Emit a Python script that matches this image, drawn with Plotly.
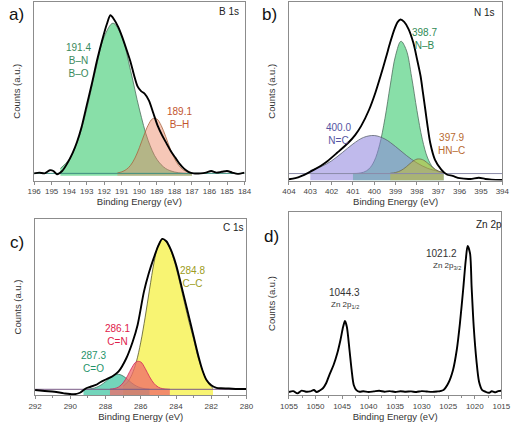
import plotly.graph_objects as go

W, H = 520, 426

# ---------------- Panel a : B 1s ----------------
a_env_x = [196.0, 195.7, 195.4, 195.1, 194.9, 194.7, 194.4, 194.1, 193.8, 193.55, 193.3, 193.0, 192.7, 192.4,
           192.1, 191.85, 191.65, 191.45, 191.2, 191.0, 190.75, 190.5, 190.3, 190.1, 189.9, 189.7, 189.45,
           189.2, 188.95, 188.7, 188.45, 188.2, 187.95, 187.7, 187.45, 187.2, 186.9, 186.5, 186.2, 185.9,
           185.6, 185.3, 185.0, 184.7, 184.4, 184.0]
a_env_y = [1.5, 2.0, 1.5, 3.5, 3.0, 1.0, 3.0, 8.0, 14.5, 21.5, 30.5, 44.5, 58.5, 73.5,
           86.5, 96.0, 101.5, 99.0, 94.0, 88.5, 80.5, 72.0, 63.5, 56.5, 53.5, 52.0, 47.5,
           39.5, 31.5, 25.5, 20.5, 15.5, 11.5, 7.5, 4.5, 2.5, 1.5, 1.5, 2.0, 3.0,
           2.0, 2.5, 3.0, 2.0, 1.2, 2.0]
a_bn_x = [194.5, 194.0, 193.5, 193.0, 192.5, 192.0, 191.5, 191.0, 190.5, 190.0, 189.5, 189.0, 188.5, 188.0, 187.5, 187.0]
a_bn_y = [4.6, 10.4, 22.4, 42.2, 66.6, 88.0, 96.5, 88.0, 66.6, 42.2, 22.4, 10.4, 4.6, 2.4, 1.6, 1.5]
a_bh_x = [191.25, 191.0, 190.75, 190.5, 190.25, 190.0, 189.75, 189.5, 189.25, 189.0, 188.75, 188.5,
          188.25, 188.0, 187.75, 187.5, 187.25, 187.0]
a_bh_y = [1.8, 2.5, 3.9, 6.6, 11.2, 17.7, 25.2, 31.9, 36.0, 35.9, 31.7, 24.9, 17.4, 11.0, 6.5, 3.8, 2.4, 1.8]
a_bg_x = [196.0, 184.0]
a_bg_y = [1.5, 1.5]
a_ticks = [196, 195, 194, 193, 192, 191, 190, 189, 188, 187, 186, 185, 184]

# ---------------- Panel b : N 1s ----------------
b_env_x = [404.0, 403.7, 403.4, 403.1, 402.8, 402.5, 402.2, 401.74, 401.22, 400.9, 400.62, 400.24, 399.95,
           399.71, 399.45, 399.26, 399.05, 398.9, 398.77, 398.6, 398.4, 398.17, 398.0, 397.83, 397.72,
           397.61, 397.5, 397.38, 397.16, 396.86, 396.6, 396.33, 396.0, 395.5, 395.1, 394.8, 394.5, 394.0]
b_env_y = [0.8, 1.5, 3.0, 5.0, 7.2, 9.6, 12.5, 18.0, 24.5, 29.5, 35.3, 46.1, 57.0,
           67.7, 80.0, 89.4, 98.5, 103.0, 104.5, 103.0, 98.5, 89.4, 79.0, 67.7, 57.0,
           46.1, 35.0, 24.5, 13.6, 7.1, 3.9, 3.0, 1.5, 1.0, 1.8, 1.0, 0.6, 0.3]
b_nb_x = [401.0, 400.75, 400.5, 400.25, 400.0, 399.75, 399.5, 399.25, 399.0, 398.75, 398.5, 398.25,
          398.0, 397.75, 397.5, 397.25, 397.0, 396.75]
b_nb_y = [4.55, 4.7, 5.4, 7.5, 12.7, 23.2, 40.4, 62.0, 81.3, 90.4, 84.7, 67.1,
          45.4, 26.8, 14.6, 8.4, 5.7, 4.8]
b_nc_x = [403.0, 402.5, 402.0, 401.5, 401.0, 400.5, 400.0, 399.5, 399.0, 398.5, 398.0, 397.5, 397.0, 396.75]
b_nc_y = [6.5, 8.9, 12.8, 18.1, 23.7, 28.0, 29.2, 26.9, 22.0, 16.3, 11.4, 7.9, 6.0, 5.4]
b_hn_x = [399.25, 399.0, 398.75, 398.5, 398.25, 398.0, 397.75, 397.5, 397.25, 397.0, 396.75]
b_hn_y = [4.7, 5.2, 6.5, 8.9, 11.9, 13.9, 13.6, 11.3, 8.3, 6.2, 5.0]
b_bg_x = [404.0, 394.0]
b_bg_y = [4.5, 4.5]
b_ticks = [404, 403, 402, 401, 400, 399, 398, 397, 396, 395, 394]

# ---------------- Panel c : C 1s ----------------
c_env_x = [292.0, 291.45, 290.9, 290.36, 289.8, 289.45, 289.1, 288.85, 288.55, 288.3, 287.95, 287.6,
           287.27, 286.82, 286.46, 286.18, 285.82, 285.55, 285.27, 285.0, 284.78, 284.55, 284.3, 284.0,
           283.64, 283.18, 282.73, 282.5, 282.27, 282.0, 281.7, 281.45, 281.0, 280.5, 280.0]
c_env_y = [3.3, 2.7, 2.2, 1.1, 0.5, 1.5, 4.5, 5.5, 6.7, 8.5, 10.5, 12.5,
           15.5, 24.5, 35.5, 46.7, 68.9, 81.0, 91.1, 99.5, 104.0, 102.5, 97.0, 87.0,
           70.0, 48.0, 26.0, 16.5, 10.0, 6.5, 4.8, 4.5, 4.3, 4.0, 4.0]
c_cc_x = [287.0, 286.75, 286.5, 286.25, 286.0, 285.75, 285.5, 285.25, 285.0, 284.78, 284.5, 284.25,
          284.0, 283.75, 283.5, 283.25, 283.0, 282.75, 282.5, 282.25, 282.0, 281.9]
c_cc_y = [5.9, 8.6, 13.7, 22.2, 35.2, 51.9, 70.6, 88.1, 100.3, 104.0, 101.3, 94.7,
          85.0, 73.1, 60.5, 48.2, 37.2, 25.0, 16.5, 9.5, 5.5, 4.5]
c_cn_x = [287.75, 287.5, 287.25, 287.0, 286.75, 286.5, 286.25, 286.0, 285.75, 285.5, 285.25, 285.0,
          284.75, 284.5, 284.35]
c_cn_y = [3.9, 4.3, 5.4, 8.1, 12.8, 18.4, 22.2, 22.0, 17.7, 12.1, 7.7, 5.2, 4.2, 3.9, 3.8]
c_co_x = [289.25, 289.0, 288.75, 288.5, 288.25, 288.0, 287.75, 287.5, 287.25, 287.0, 286.75, 286.5,
          286.25, 286.0, 285.75, 285.5]
c_co_y = [3.85, 4.0, 4.3, 5.2, 6.7, 8.9, 11.4, 13.3, 13.8, 12.6, 10.4, 7.9, 6.0, 4.8, 4.2, 3.9]
c_bg_x = [292.0, 280.0]
c_bg_y = [3.8, 3.8]
c_ticks = [292, 290, 288, 286, 284, 282, 280]

# ---------------- Panel d : Zn 2p ----------------
d_env_x = [1055.0, 1054.2, 1053.4, 1052.6, 1051.8, 1051.0, 1050.3, 1049.8, 1049.2, 1048.6, 1048.0,
           1047.4, 1046.6, 1045.9, 1045.3, 1044.8, 1044.45, 1044.1, 1043.6, 1043.2, 1042.8, 1042.3,
           1041.7, 1041.0, 1040.0, 1039.0, 1038.0, 1037.0, 1036.0, 1035.0, 1034.0, 1033.0, 1032.0,
           1031.0, 1030.0, 1029.0, 1028.0, 1027.0, 1026.5, 1025.9, 1025.0, 1024.1, 1023.4, 1022.8,
           1022.2, 1021.7, 1021.35, 1020.9, 1020.6, 1020.2, 1019.7, 1019.2, 1018.6, 1018.0, 1017.3,
           1016.8, 1016.1, 1015.6, 1015.0]
d_env_y = [2.0, 2.6, 1.1, 2.9, 2.2, 2.4, 3.3, 2.0, 3.0, 4.5, 7.8,
           13.3, 20.0, 27.8, 36.7, 45.5, 49.3, 45.5, 30.0, 16.7, 6.7, 3.3,
           2.2, 2.5, 2.0, 2.4, 2.8, 2.2, 2.6, 2.0, 2.5, 2.2, 2.4,
           2.0, 2.6, 2.3, 2.1, 2.4, 2.6, 3.3, 7.8, 16.7, 30.0, 47.8,
           70.0, 90.0, 99.3, 94.5, 72.2, 45.5, 23.3, 8.9, 3.3, 2.2, 1.5,
           2.5, 1.8, 2.6, 2.8]
d_ticks = [1055, 1050, 1045, 1040, 1035, 1030, 1025, 1020, 1015]

FONT = "Liberation Sans, Arial, sans-serif"
NARROW = "Liberation Sans Narrow, Arial Narrow, Liberation Sans, Arial, sans-serif"
X_TITLE = "Binding Energy (eV)"
Y_TITLE = "Counts (a.u.)"

fig = go.Figure()


def comp(x, y, xa, ya, fill, line, name):
    fig.add_trace(go.Scatter(x=x, y=y, xaxis=xa, yaxis=ya, mode="lines", fill="tozeroy",
                             fillcolor=fill, line=dict(color=line, width=0.8, shape="spline"),
                             name=name, showlegend=False, hoverinfo="skip"))


def env(x, y, xa, ya, name):
    fig.add_trace(go.Scatter(x=x, y=y, xaxis=xa, yaxis=ya, mode="lines",
                             line=dict(color="#000000", width=1.9, shape="spline", smoothing=0.8),
                             name=name, showlegend=False))


def bg(x, y, xa, ya, color):
    fig.add_trace(go.Scatter(x=x, y=y, xaxis=xa, yaxis=ya, mode="lines",
                             line=dict(color=color, width=1.0), showlegend=False, hoverinfo="skip"))


# a
comp(a_bn_x, a_bn_y, "x", "y", "rgba(90,210,135,0.72)", "#4f6e5e", "B–N / B–O")
comp(a_bh_x, a_bh_y, "x", "y", "rgba(235,130,95,0.45)", "#a8643e", "B–H")
bg(a_bg_x, a_bg_y, "x", "y", "#3f8f80")
env(a_env_x, a_env_y, "x", "y", "B 1s")
# b
comp(b_nb_x, b_nb_y, "x2", "y2", "rgba(90,210,135,0.72)", "#4f6e5e", "N–B")
comp(b_nc_x, b_nc_y, "x2", "y2", "rgba(140,130,220,0.55)", "#5b6370", "N=C")
comp(b_hn_x, b_hn_y, "x2", "y2", "rgba(200,185,40,0.5)", "#6e6a50", "HN–C")
bg(b_bg_x, b_bg_y, "x2", "y2", "#8a8aa8")
env(b_env_x, b_env_y, "x2", "y2", "N 1s")
# c
comp(c_cc_x, c_cc_y, "x3", "y3", "rgba(245,240,60,0.72)", "#55552a", "C–C")
comp(c_co_x, c_co_y, "x3", "y3", "rgba(40,190,150,0.65)", "#3d6e60", "C=O")
comp(c_cn_x, c_cn_y, "x3", "y3", "rgba(240,105,105,0.75)", "#d0245a", "C=N")
bg(c_bg_x, c_bg_y, "x3", "y3", "#7a5a86")
env(c_env_x, c_env_y, "x3", "y3", "C 1s")
# d
env(d_env_x, d_env_y, "x4", "y4", "Zn 2p")

ax_common = dict(showline=True, linecolor="#8c8c8c", linewidth=1, mirror=True, showgrid=False,
                 zeroline=False, ticks="outside", ticklen=3, tickcolor="#8c8c8c", tickwidth=1,
                 tickfont=dict(size=8, color="#444444", family=FONT),
                 title=dict(text=X_TITLE, standoff=2, font=dict(size=9.5, color="#333333", family=FONT)))
y_common = dict(showline=True, linecolor="#8c8c8c", linewidth=1, mirror=True, showgrid=False,
                zeroline=False, ticks="", showticklabels=False,
                title=dict(text=Y_TITLE, standoff=10, font=dict(size=9.5, color="#333333", family=FONT)))


def px_x(p):
    return p / W


def px_y(p):
    return 1 - p / H


fig.update_layout(
    width=W, height=H, margin=dict(l=0, r=0, t=0, b=0),
    paper_bgcolor="white", plot_bgcolor="white", showlegend=False,
    font=dict(family=FONT, color="#333333"),
    xaxis=dict(ax_common, domain=[px_x(26), px_x(244)], range=[196, 184], tickvals=a_ticks, anchor="y"),
    yaxis=dict(y_common, domain=[px_y(180.5), px_y(2)], range=[-3.0, 109.9], anchor="x"),
    xaxis2=dict(ax_common, domain=[px_x(290), px_x(511)], range=[404, 394], tickvals=b_ticks, anchor="y2"),
    yaxis2=dict(y_common, domain=[px_y(180.5), px_y(2)], range=[0, 115.9], anchor="x2"),
    xaxis3=dict(ax_common, domain=[px_x(27), px_x(246)], range=[292, 280], tickvals=c_ticks, anchor="y3",
                minor=dict(ticks="outside", ticklen=2, tickcolor="#8c8c8c", dtick=1)),
    yaxis3=dict(y_common, domain=[px_y(395), px_y(219)], range=[0, 117.3], anchor="x3"),
    xaxis4=dict(ax_common, domain=[px_x(290), px_x(510)], range=[1055, 1015], tickvals=d_ticks, anchor="y4",
                minor=dict(ticks="outside", ticklen=2, tickcolor="#8c8c8c", dtick=2.5)),
    yaxis4=dict(y_common, domain=[px_y(395), px_y(212)], range=[0, 122], anchor="x4"),
)

ann = []


def note(text, x, y, size=9, color="#333333", angle=0, family=FONT):
    ann.append(dict(text=text, x=px_x(x), y=px_y(y), xref="paper", yref="paper", showarrow=False,
                    xanchor="center", yanchor="middle", textangle=angle,
                    font=dict(size=size, color=color, family=family)))


# panel letters and titles
for t, x, y in [("a)", 8, 15), ("b)", 270, 15), ("c)", 8, 242), ("d)", 272, 236)]:
    note(t, x, y, size=17, color="#111111")
for t, x, y in [("B 1s", 228, 12), ("N 1s", 493, 13), ("C 1s", 233, 228), ("Zn 2p", 497, 225)]:
    note(t, x, y, size=10, color="#222222")
# peak labels
note("191.4<br>B–N<br>B–O", 72, 60, size=10, color="#3a8a5c", family=NARROW)
note("189.1<br>B–H", 177, 117.5, size=10, color="#c2552e", family=NARROW)
note("398.7<br>N–B", 430, 39, size=10, color="#2f8a55", family=NARROW)
note("400.0<br>N=C", 341, 134, size=10, color="#5454a2", family=NARROW)
note("397.9<br>HN–C", 458, 144, size=10, color="#b86a30", family=NARROW)
note("284.8<br>C–C", 190, 277, size=10, color="#9c9c22", family=NARROW)
note("286.1<br>C=N", 112, 335, size=10, color="#e0204a", family=NARROW)
note("287.3<br>C=O", 88, 362, size=10, color="#1f946a", family=NARROW)
note("1044.3", 348, 292, size=10, color="#333333")
note("Zn 2p<sub>1/2</sub>", 348, 305, size=8, color="#333333")
note("1021.2", 448, 253, size=10, color="#333333")
note("Zn 2p<sub>3/2</sub>", 454, 266, size=8, color="#333333")

fig.update_layout(annotations=ann)
fig.write_html("out.html", config={"displayModeBar": False},
               post_script="document.body.style.margin='0';document.body.style.padding='0';")
